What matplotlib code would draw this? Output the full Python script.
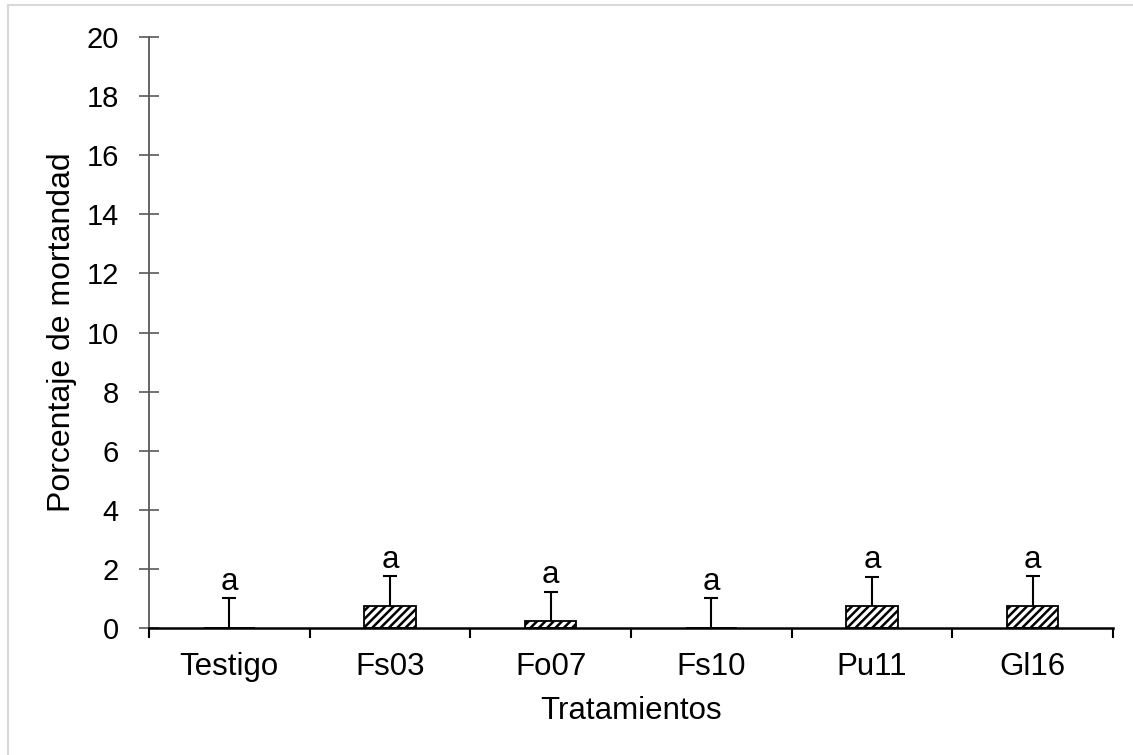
import matplotlib
matplotlib.use("Agg")
import matplotlib.pyplot as plt
import numpy as np
from matplotlib.patches import Rectangle

my_dpi = 100
plt.rcParams['font.family'] = ['Liberation Sans', 'DejaVu Sans']
plt.rcParams['hatch.linewidth'] = 1.8

tratamientos = ['Testigo', 'Fs03', 'Fo07', 'Fs10', 'Pu11', 'Gl16']
mortandad = [0.0, 0.75, 0.25, 0.0, 0.75, 0.75]
error = [1.0, 1.0, 0.98, 1.0, 0.98, 1.0]
letras = ['a', 'a', 'a', 'a', 'a', 'a']

r = np.arange(len(tratamientos))
tops = np.add(mortandad, error)

fig = plt.figure(figsize=(1133/my_dpi, 755/my_dpi), dpi=my_dpi)
ax = fig.add_axes([149/1133, 1 - 628/755, (1113-149)/1133, (628-37)/755])

ax.bar(r, mortandad, width=0.32, color='white', edgecolor='black', hatch='////', linewidth=1.3, zorder=2)
eb = ax.errorbar(r, mortandad, yerr=[np.zeros(len(r)), error], fmt='none', ecolor='black',
                 elinewidth=1.5, capsize=5, capthick=1.5, zorder=3)
caps = eb[1]
caps[0].set_visible(False)
caps[1].set_color('#808080')

for x, t, l in zip(r, tops, letras):
    ax.annotate(l, (x, t), xytext=(0, 1), textcoords='offset points',
                ha='center', va='bottom', fontsize=22.5)

ax.set_xlim(-0.5, len(r) - 0.5)
ax.set_ylim(0, 20)
ax.set_yticks(np.arange(0, 21, 2))
ax.set_xticks(r)
ax.set_xticklabels(tratamientos, fontsize=22.5)
ax.set_xticks(np.arange(-0.5, len(r)), minor=True)
ax.tick_params(axis='x', which='major', length=0, pad=17.5)
ax.tick_params(axis='x', which='minor', length=7, width=1.5, direction='out', color='black')
ax.tick_params(axis='y', direction='inout', length=14.4, width=1.2, color='#595959', labelsize=21, pad=14.5)

for s in ['top', 'right']:
    ax.spines[s].set_visible(False)
ax.spines['left'].set_color('#595959')
ax.spines['left'].set_linewidth(1.3)
ax.spines['bottom'].set_color('black')
ax.spines['bottom'].set_linewidth(1.8)
ax.spines['bottom'].set_zorder(4)

ax.set_xlabel('Tratamientos', fontsize=22.5, labelpad=10)
ax.set_ylabel('Porcentaje de mortandad', fontsize=23, labelpad=7)

fig.patches.append(Rectangle((8/1133, -0.1), 1.2, 1.1 - 5/755, transform=fig.transFigure,
                             fill=False, edgecolor='#d9d9d9', linewidth=1.5))

plt.savefig('out.png', dpi=my_dpi)
